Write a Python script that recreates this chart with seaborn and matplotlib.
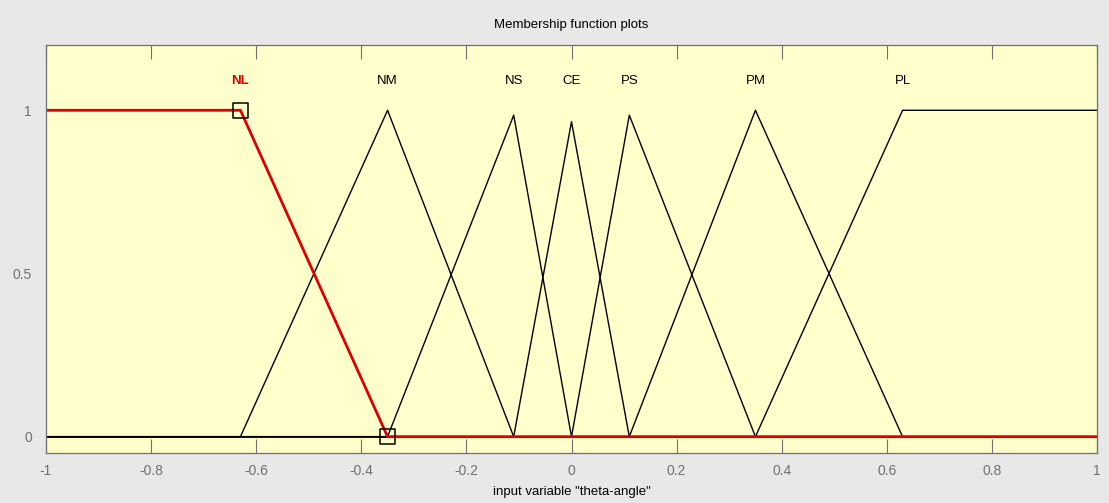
import matplotlib
matplotlib.use("Agg")
import matplotlib.pyplot as plt
import seaborn as sns
import pandas as pd

# membership functions of input variable "theta-angle" (vertices)
mf_names = ["NL", "NM", "NS", "CE", "PS", "PM", "PL"]
mf_x = [
    [-1.0, -0.63, -0.35, 1.0],
    [-1.0, -0.63, -0.35, -0.11, 1.0],
    [-1.0, -0.35, -0.11, 0.0, 1.0],
    [-1.0, -0.11, 0.0, 0.11, 1.0],
    [-1.0, 0.0, 0.11, 0.35, 1.0],
    [-1.0, 0.11, 0.35, 0.63, 1.0],
    [-1.0, 0.35, 0.63, 1.0],
]
mf_y = [
    [1.0, 1.0, 0.0, 0.0],
    [0.0, 0.0, 1.0, 0.0, 0.0],
    [0.0, 0.0, 0.985, 0.0, 0.0],
    [0.0, 0.0, 0.965, 0.0, 0.0],
    [0.0, 0.0, 0.985, 0.0, 0.0],
    [0.0, 0.0, 1.0, 0.0, 0.0],
    [0.0, 0.0, 1.0, 1.0],
]
label_x = [-0.63, -0.35, -0.11, 0.0, 0.11, 0.35, 0.63]
selected = "NL"
square_x = [-0.63, -0.35]
square_y = [1.0, 0.0]

x_ticks = [-1, -0.8, -0.6, -0.4, -0.2, 0, 0.2, 0.4, 0.6, 0.8, 1]
x_ticklabels = ["-1", "-0.8", "-0.6", "-0.4", "-0.2", "0", "0.2", "0.4", "0.6", "0.8", "1"]
y_ticks = [0, 0.5, 1]
y_ticklabels = ["0", "0.5", "1"]

plt.rcParams["font.family"] = ["Liberation Sans", "DejaVu Sans"]

fig = plt.figure(figsize=(11.09, 5.03), dpi=100, facecolor="#e8e8e8")
ax = fig.add_axes([46 / 1109, 1 - 453 / 503, 1051 / 1109, 408 / 503])
ax.set_facecolor("#ffffcc")

# draw black ones first, the selected one on top
for name, xs, ys in zip(mf_names, mf_x, mf_y):
    if name == selected:
        continue
    df = pd.DataFrame({"x": xs, "y": ys})
    sns.lineplot(data=df, x="x", y="y", sort=False, color="black", lw=1.0, ax=ax)

for name, xs, ys in zip(mf_names, mf_x, mf_y):
    if name != selected:
        continue
    df = pd.DataFrame({"x": xs, "y": ys})
    sns.lineplot(data=df, x="x", y="y", sort=False, color="#dd0000", lw=2.0, ax=ax)

sns.scatterplot(x=square_x, y=square_y, marker="s", s=120, facecolor="none",
                edgecolor="black", linewidth=1.1, ax=ax, zorder=5)

for name, lx in zip(mf_names, label_x):
    if name == selected:
        ax.text(lx, 1.09, name, ha="center", va="center", color="#dd0000",
                fontsize=9.5, fontweight="bold")
    else:
        ax.text(lx, 1.09, name, ha="center", va="center", color="black", fontsize=9.5)

ax.set_xlim(-1, 1)
ax.set_ylim(-0.05, 1.2)
ax.set_xticks(x_ticks)
ax.set_xticklabels(x_ticklabels)
ax.set_yticks(y_ticks)
ax.set_yticklabels(y_ticklabels)
ax.tick_params(axis="x", direction="in", length=10, width=0.8, color="#707070",
               labelcolor="#707070", labelsize=10, top=True, pad=8)
ax.tick_params(axis="y", direction="in", length=0, labelcolor="#707070",
               labelsize=10, pad=10)
for sp in ax.spines.values():
    sp.set_color("#707070")
    sp.set_linewidth(0.9)

ax.set_xlabel('input variable "theta-angle"', fontsize=9.5, labelpad=6)
ax.set_ylabel("")
fig.text(571 / 1109, 1 - 25 / 503, "Membership function plots", ha="center",
         va="center", fontsize=9.5)

fig.savefig("out.png", dpi=100, facecolor=fig.get_facecolor())
